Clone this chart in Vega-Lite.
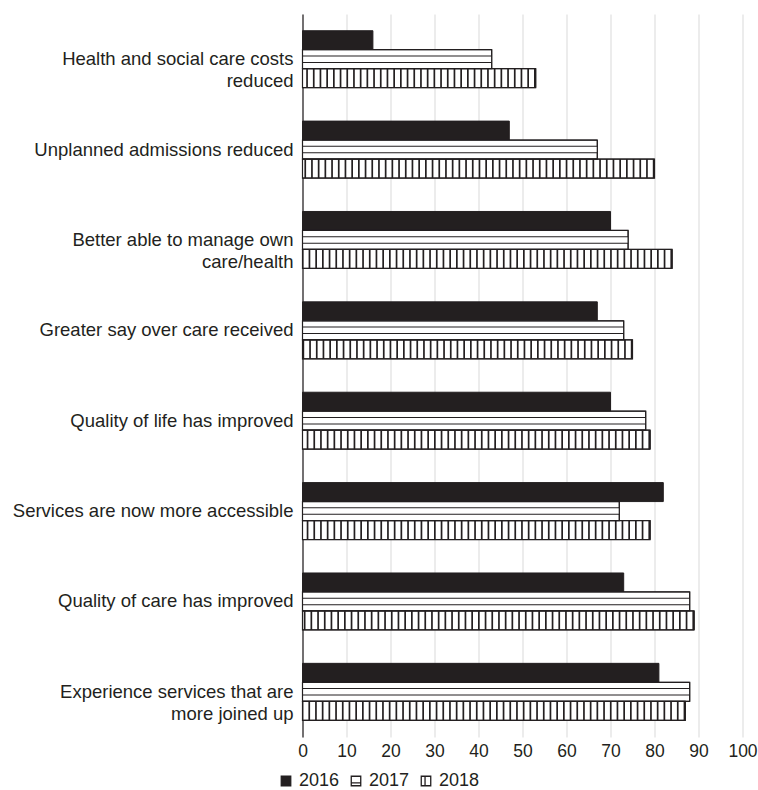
{
  "$schema": "https://vega.github.io/schema/vega-lite/v6.json",
  "width": 440,
  "height": 723,
  "autosize": {"type": "none"},
  "padding": {"left": 302.5, "top": 14, "right": 15.5, "bottom": 53},
  "background": "white",
  "config": {
    "view": {"stroke": null},
    "font": "Liberation Sans",
    "axis": {"labelFont": "Liberation Sans", "labelColor": "#231f20", "title": null, "ticks": false},
    "legend": {"labelFont": "Liberation Sans", "labelColor": "#231f20"}
  },
  "data": {
    "values": [
      {"category": "Health and social care costs|reduced", "year": "2016", "value": 16},
      {"category": "Health and social care costs|reduced", "year": "2017", "value": 43},
      {"category": "Health and social care costs|reduced", "year": "2018", "value": 53},
      {"category": "Unplanned admissions reduced", "year": "2016", "value": 47},
      {"category": "Unplanned admissions reduced", "year": "2017", "value": 67},
      {"category": "Unplanned admissions reduced", "year": "2018", "value": 80},
      {"category": "Better able to manage own|care/health", "year": "2016", "value": 70},
      {"category": "Better able to manage own|care/health", "year": "2017", "value": 74},
      {"category": "Better able to manage own|care/health", "year": "2018", "value": 84},
      {"category": "Greater say over care received", "year": "2016", "value": 67},
      {"category": "Greater say over care received", "year": "2017", "value": 73},
      {"category": "Greater say over care received", "year": "2018", "value": 75},
      {"category": "Quality of life has improved", "year": "2016", "value": 70},
      {"category": "Quality of life has improved", "year": "2017", "value": 78},
      {"category": "Quality of life has improved", "year": "2018", "value": 79},
      {"category": "Services are now more accessible", "year": "2016", "value": 82},
      {"category": "Services are now more accessible", "year": "2017", "value": 72},
      {"category": "Services are now more accessible", "year": "2018", "value": 79},
      {"category": "Quality of care has improved", "year": "2016", "value": 73},
      {"category": "Quality of care has improved", "year": "2017", "value": 88},
      {"category": "Quality of care has improved", "year": "2018", "value": 89},
      {"category": "Experience services that are|more joined up", "year": "2016", "value": 81},
      {"category": "Experience services that are|more joined up", "year": "2017", "value": 88},
      {"category": "Experience services that are|more joined up", "year": "2018", "value": 87}
    ]
  },
  "encoding": {
    "y": {
      "field": "category",
      "type": "nominal",
      "sort": null,
      "scale": {"paddingInner": 0.37, "paddingOuter": 0.185},
      "axis": {
        "labelExpr": "split(datum.label, '|')",
        "labelFontSize": 18.5,
        "labelLineHeight": 22,
        "labelPadding": 9.5,
        "labelLimit": 0,
        "domain": true,
        "domainColor": "#231f20",
        "domainWidth": 1.2,
        "grid": false
      }
    },
    "yOffset": {
      "field": "year",
      "type": "nominal",
      "scale": {"domain": ["2016", "2017", "2018"], "paddingInner": 0, "paddingOuter": 0}
    },
    "x": {
      "field": "value",
      "type": "quantitative",
      "scale": {"domain": [0, 100], "nice": false},
      "axis": {
        "values": [0, 10, 20, 30, 40, 50, 60, 70, 80, 90, 100],
        "labelFontSize": 17.5,
        "labelPadding": 5,
        "labelFlush": false,
        "labelOverlap": false,
        "domain": false,
        "grid": true,
        "gridColor": "#e6e6e6",
        "gridWidth": 1.5
      }
    }
  },
  "layer": [
    {
      "mark": {"type": "bar", "stroke": "#231f20", "strokeWidth": 1},
      "encoding": {
        "fill": {
          "field": "year",
          "type": "nominal",
          "scale": {"domain": ["2016", "2017", "2018"], "range": ["#231f20", "#ffffff", "#ffffff"]},
          "legend": {
            "orient": "none",
            "legendX": -25.5,
            "legendY": 758,
            "direction": "horizontal",
            "title": null,
            "padding": 0,
            "symbolType": "square",
            "symbolSize": 90,
            "symbolStrokeColor": "#231f20",
            "symbolStrokeWidth": 1,
            "labelFontSize": 18,
            "labelOffset": 4,
            "columnPadding": 7,
            "encode": {
              "symbols": {
                "update": {
                  "shape": {"signal": "datum.value == '2018' ? 'M-1,-1H1V1H-1ZM-0.2,-1V1' : (datum.value == '2017' ? 'M-1,-1H1V1H-1ZM-1,0.4H1' : 'square')"},
                  "stroke": {"value": "#231f20"},
                  "strokeWidth": {"value": 1.3}
                }
              }
            }
          }
        }
      }
    },
    {
      "transform": [{"filter": "datum.year == '2017'"}],
      "mark": {"type": "rule", "color": "#231f20", "strokeWidth": 7.6, "strokeCap": "butt"},
      "encoding": {"x2": {"datum": 0}}
    },
    {
      "transform": [{"filter": "datum.year == '2017'"}],
      "mark": {"type": "rule", "color": "#ffffff", "strokeWidth": 5.6, "strokeCap": "butt"},
      "encoding": {"x2": {"datum": 0}}
    },
    {
      "transform": [{"filter": "datum.year == '2018'"}],
      "mark": {"type": "rule", "color": "#231f20", "strokeWidth": 19, "strokeCap": "butt", "strokeDash": [1.7, 5]},
      "encoding": {"x2": {"datum": 0}}
    },
    {
      "transform": [{"filter": "datum.year != '2016'"}],
      "mark": {"type": "bar", "fill": null, "fillOpacity": 0, "stroke": "#231f20", "strokeWidth": 1.2},
      "encoding": {}
    }
  ]
}
